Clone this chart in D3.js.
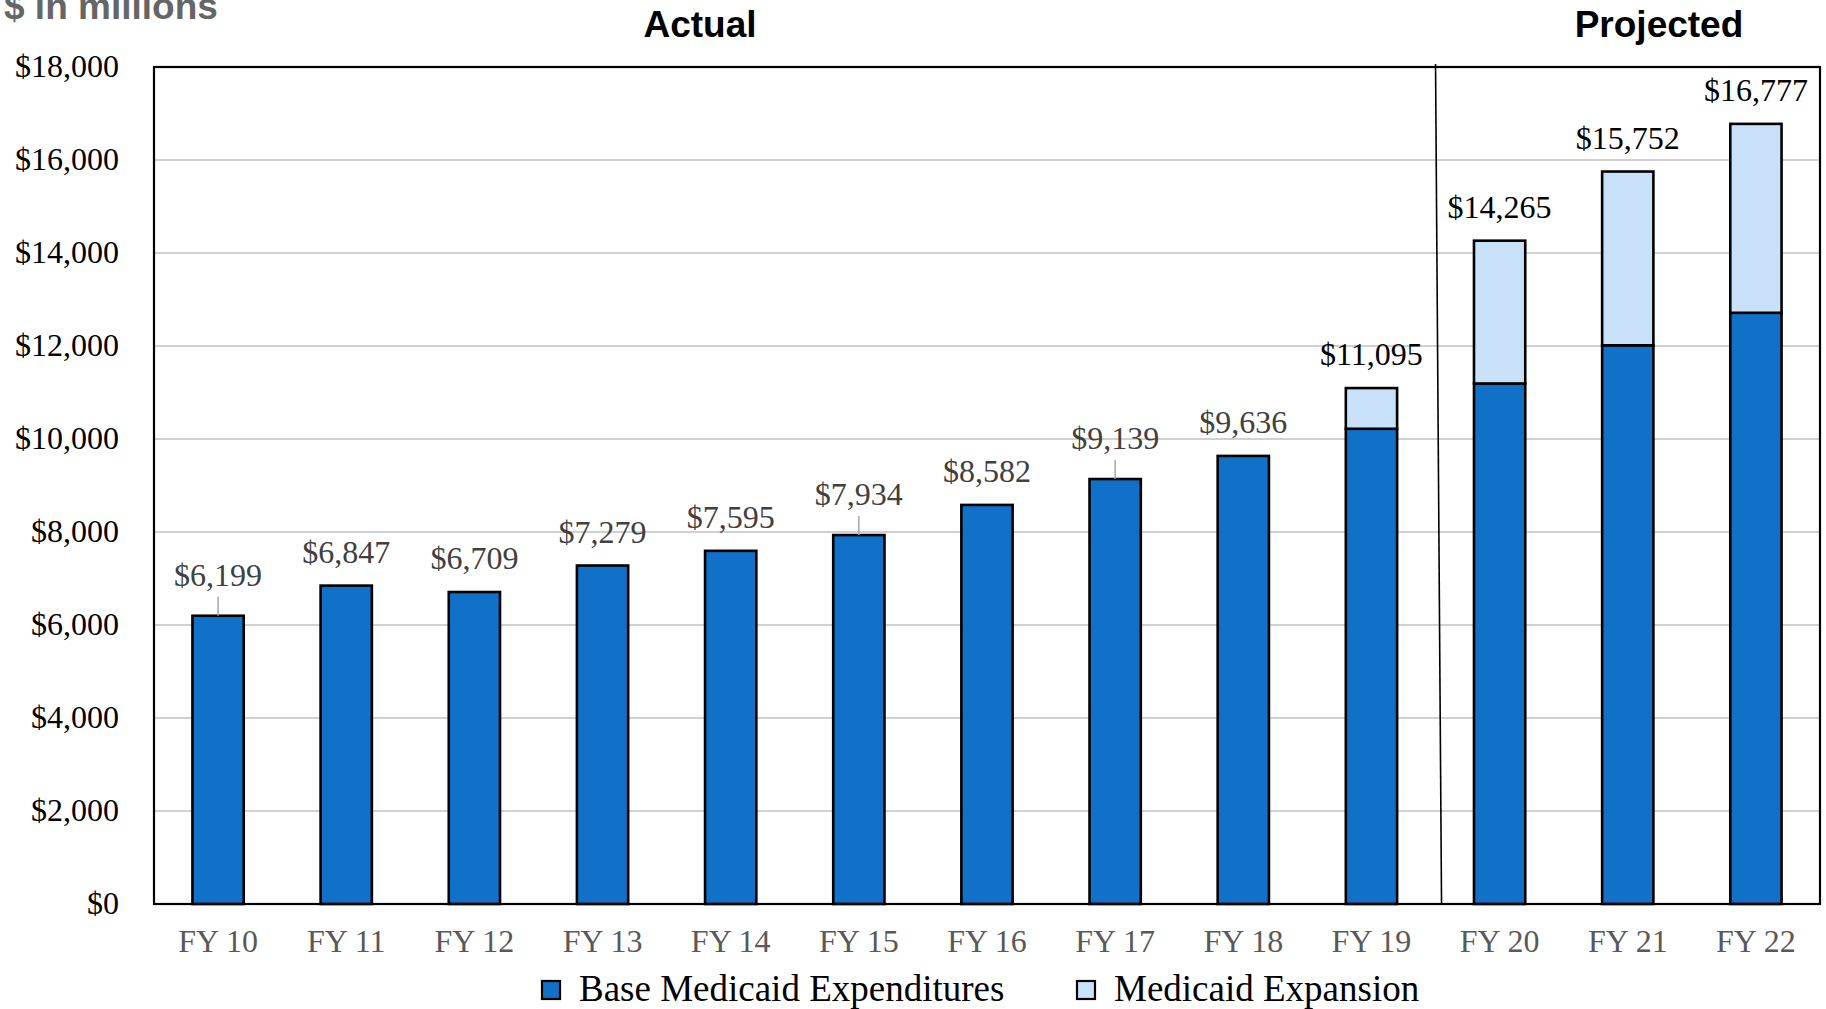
<!DOCTYPE html>
<html>
<head>
<meta charset="utf-8">
<script src="https://cdn.jsdelivr.net/npm/d3@7"></script>
<style>
  body { margin: 0; background: #fff; }
  svg { display: block; }
</style>
</head>
<body>
<script>
const width = 1826;
const height = 1009;
const margin = { top: 67, right: 6, bottom: 105, left: 154 };

// data ($ in millions)
const years = ['FY 10', 'FY 11', 'FY 12', 'FY 13', 'FY 14', 'FY 15', 'FY 16',
    'FY 17', 'FY 18', 'FY 19', 'FY 20', 'FY 21', 'FY 22'];
const baseSpend = [6199, 6847, 6709, 7279, 7595, 7934, 8582, 9139, 9636, 10220, 11194, 12015, 12714];
const expansion = [0, 0, 0, 0, 0, 0, 0, 0, 0, 875, 3071, 3737, 4063];
const yTicks = [0, 2000, 4000, 6000, 8000, 10000, 12000, 14000, 16000, 18000];
const seriesNames = ['Base Medicaid Expenditures', 'Medicaid Expansion'];
const leaderYears = ['FY 10', 'FY 15', 'FY 17'];

const colors = ['#1170c8', '#c9e1f8'];
const serif = '"Liberation Serif", "Times New Roman", serif';
const sans = '"Liberation Sans", Arial, sans-serif';

const rows = years.map((y, i) => ({ year: y, base: baseSpend[i], expansion: expansion[i] }));

const svg = d3.select('body')
    .append('svg')
    .attr('width', width)
    .attr('height', height);

const x = d3.scaleBand()
    .domain(years)
    .range([margin.left, width - margin.right])
    .paddingInner(0.6)
    .paddingOuter(0.3);

const y = d3.scaleLinear()
    .domain([0, 18000])
    .range([height - margin.bottom, margin.top]);

// gridlines
svg.append('g')
    .selectAll('line')
    .data(yTicks.filter(d => d > 0 && d < 18000))
    .enter()
    .append('line')
    .attr('x1', margin.left)
    .attr('x2', width - margin.right)
    .attr('y1', d => y(d))
    .attr('y2', d => y(d))
    .attr('stroke', '#c0c0c0')
    .attr('stroke-width', 1.6);

// y axis labels
const yAxis = d3.axisLeft(y)
    .tickValues(yTicks)
    .tickSize(0)
    .tickPadding(35)
    .tickFormat(d => '$' + d3.format(',')(d));
svg.append('g')
    .attr('transform', `translate(${margin.left}, 0)`)
    .call(yAxis)
    .call(g => g.select('.domain').remove())
    .selectAll('text')
    .style('font-family', serif)
    .style('font-size', '32px')
    .attr('fill', '#000')
    .attr('dy', '0.3em');

// x axis labels
const xAxis = d3.axisBottom(x).tickSize(0).tickPadding(26);
svg.append('g')
    .attr('transform', `translate(0, ${height - margin.bottom})`)
    .call(xAxis)
    .call(g => g.select('.domain').remove())
    .selectAll('text')
    .style('font-family', serif)
    .style('font-size', '32px')
    .attr('fill', '#595959')
    .attr('dy', '0.68em');

// stacked bars
const stacked = d3.stack().keys(['base', 'expansion'])(rows);
svg.append('g')
    .selectAll('g')
    .data(stacked)
    .enter()
    .append('g')
    .attr('fill', (d, i) => colors[i])
    .selectAll('rect')
    .data(d => d.filter(s => s[1] > s[0]))
    .enter()
    .append('rect')
    .attr('x', d => x(d.data.year))
    .attr('y', d => y(d[1]))
    .attr('width', x.bandwidth())
    .attr('height', d => y(d[0]) - y(d[1]))
    .attr('stroke', '#000')
    .attr('stroke-width', 2.6);

// total labels
const labels = svg.append('g');
rows.forEach(d => {
    const total = d.base + d.expansion;
    const cx = x(d.year) + x.bandwidth() / 2;
    const top = y(total);
    const leader = leaderYears.includes(d.year);
    if (leader) {
        labels.append('line')
            .attr('x1', cx).attr('x2', cx)
            .attr('y1', top - 19).attr('y2', top)
            .attr('stroke', '#a6a6a6')
            .attr('stroke-width', 1.5);
    }
    labels.append('text')
        .attr('x', cx)
        .attr('y', top - (leader ? 30 : 23))
        .attr('text-anchor', 'middle')
        .style('font-family', serif)
        .style('font-size', '32px')
        .attr('fill', d.expansion > 0 ? '#000' : '#404040')
        .text('$' + d3.format(',')(total));
});

// plot frame
svg.append('rect')
    .attr('x', margin.left)
    .attr('y', margin.top)
    .attr('width', width - margin.right - margin.left)
    .attr('height', height - margin.bottom - margin.top)
    .attr('fill', 'none')
    .attr('stroke', '#000')
    .attr('stroke-width', 2.2);

// actual / projected divider
const split = (x('FY 19') + x.bandwidth() + x('FY 20')) / 2;
svg.append('line')
    .attr('x1', split)
    .attr('y1', margin.top - 3)
    .attr('x2', split + 6)
    .attr('y2', height - margin.bottom)
    .attr('stroke', '#000')
    .attr('stroke-width', 1.6);

// headings
svg.append('text')
    .attr('x', 700)
    .attr('y', 37)
    .attr('text-anchor', 'middle')
    .style('font-family', sans)
    .style('font-weight', 'bold')
    .style('font-size', '37px')
    .text('Actual');

svg.append('text')
    .attr('x', 1659)
    .attr('y', 37)
    .attr('text-anchor', 'middle')
    .style('font-family', sans)
    .style('font-weight', 'bold')
    .style('font-size', '37px')
    .text('Projected');

svg.append('text')
    .attr('x', 4)
    .attr('y', 19)
    .style('font-family', sans)
    .style('font-weight', 'bold')
    .style('font-size', '37px')
    .attr('fill', '#666666')
    .text('$ in millions');

// legend
const legend = svg.append('g').attr('id', 'legend');
const legendX = [542, 1077];
seriesNames.forEach((name, i) => {
    legend.append('rect')
        .attr('x', legendX[i])
        .attr('y', 981)
        .attr('width', 18)
        .attr('height', 18)
        .attr('fill', colors[i])
        .attr('stroke', '#000')
        .attr('stroke-width', 2.2);
    legend.append('text')
        .attr('x', legendX[i] + 37)
        .attr('y', 1001)
        .style('font-family', serif)
        .style('font-size', '37px')
        .attr('fill', '#000')
        .text(name);
});
</script>
</body>
</html>
